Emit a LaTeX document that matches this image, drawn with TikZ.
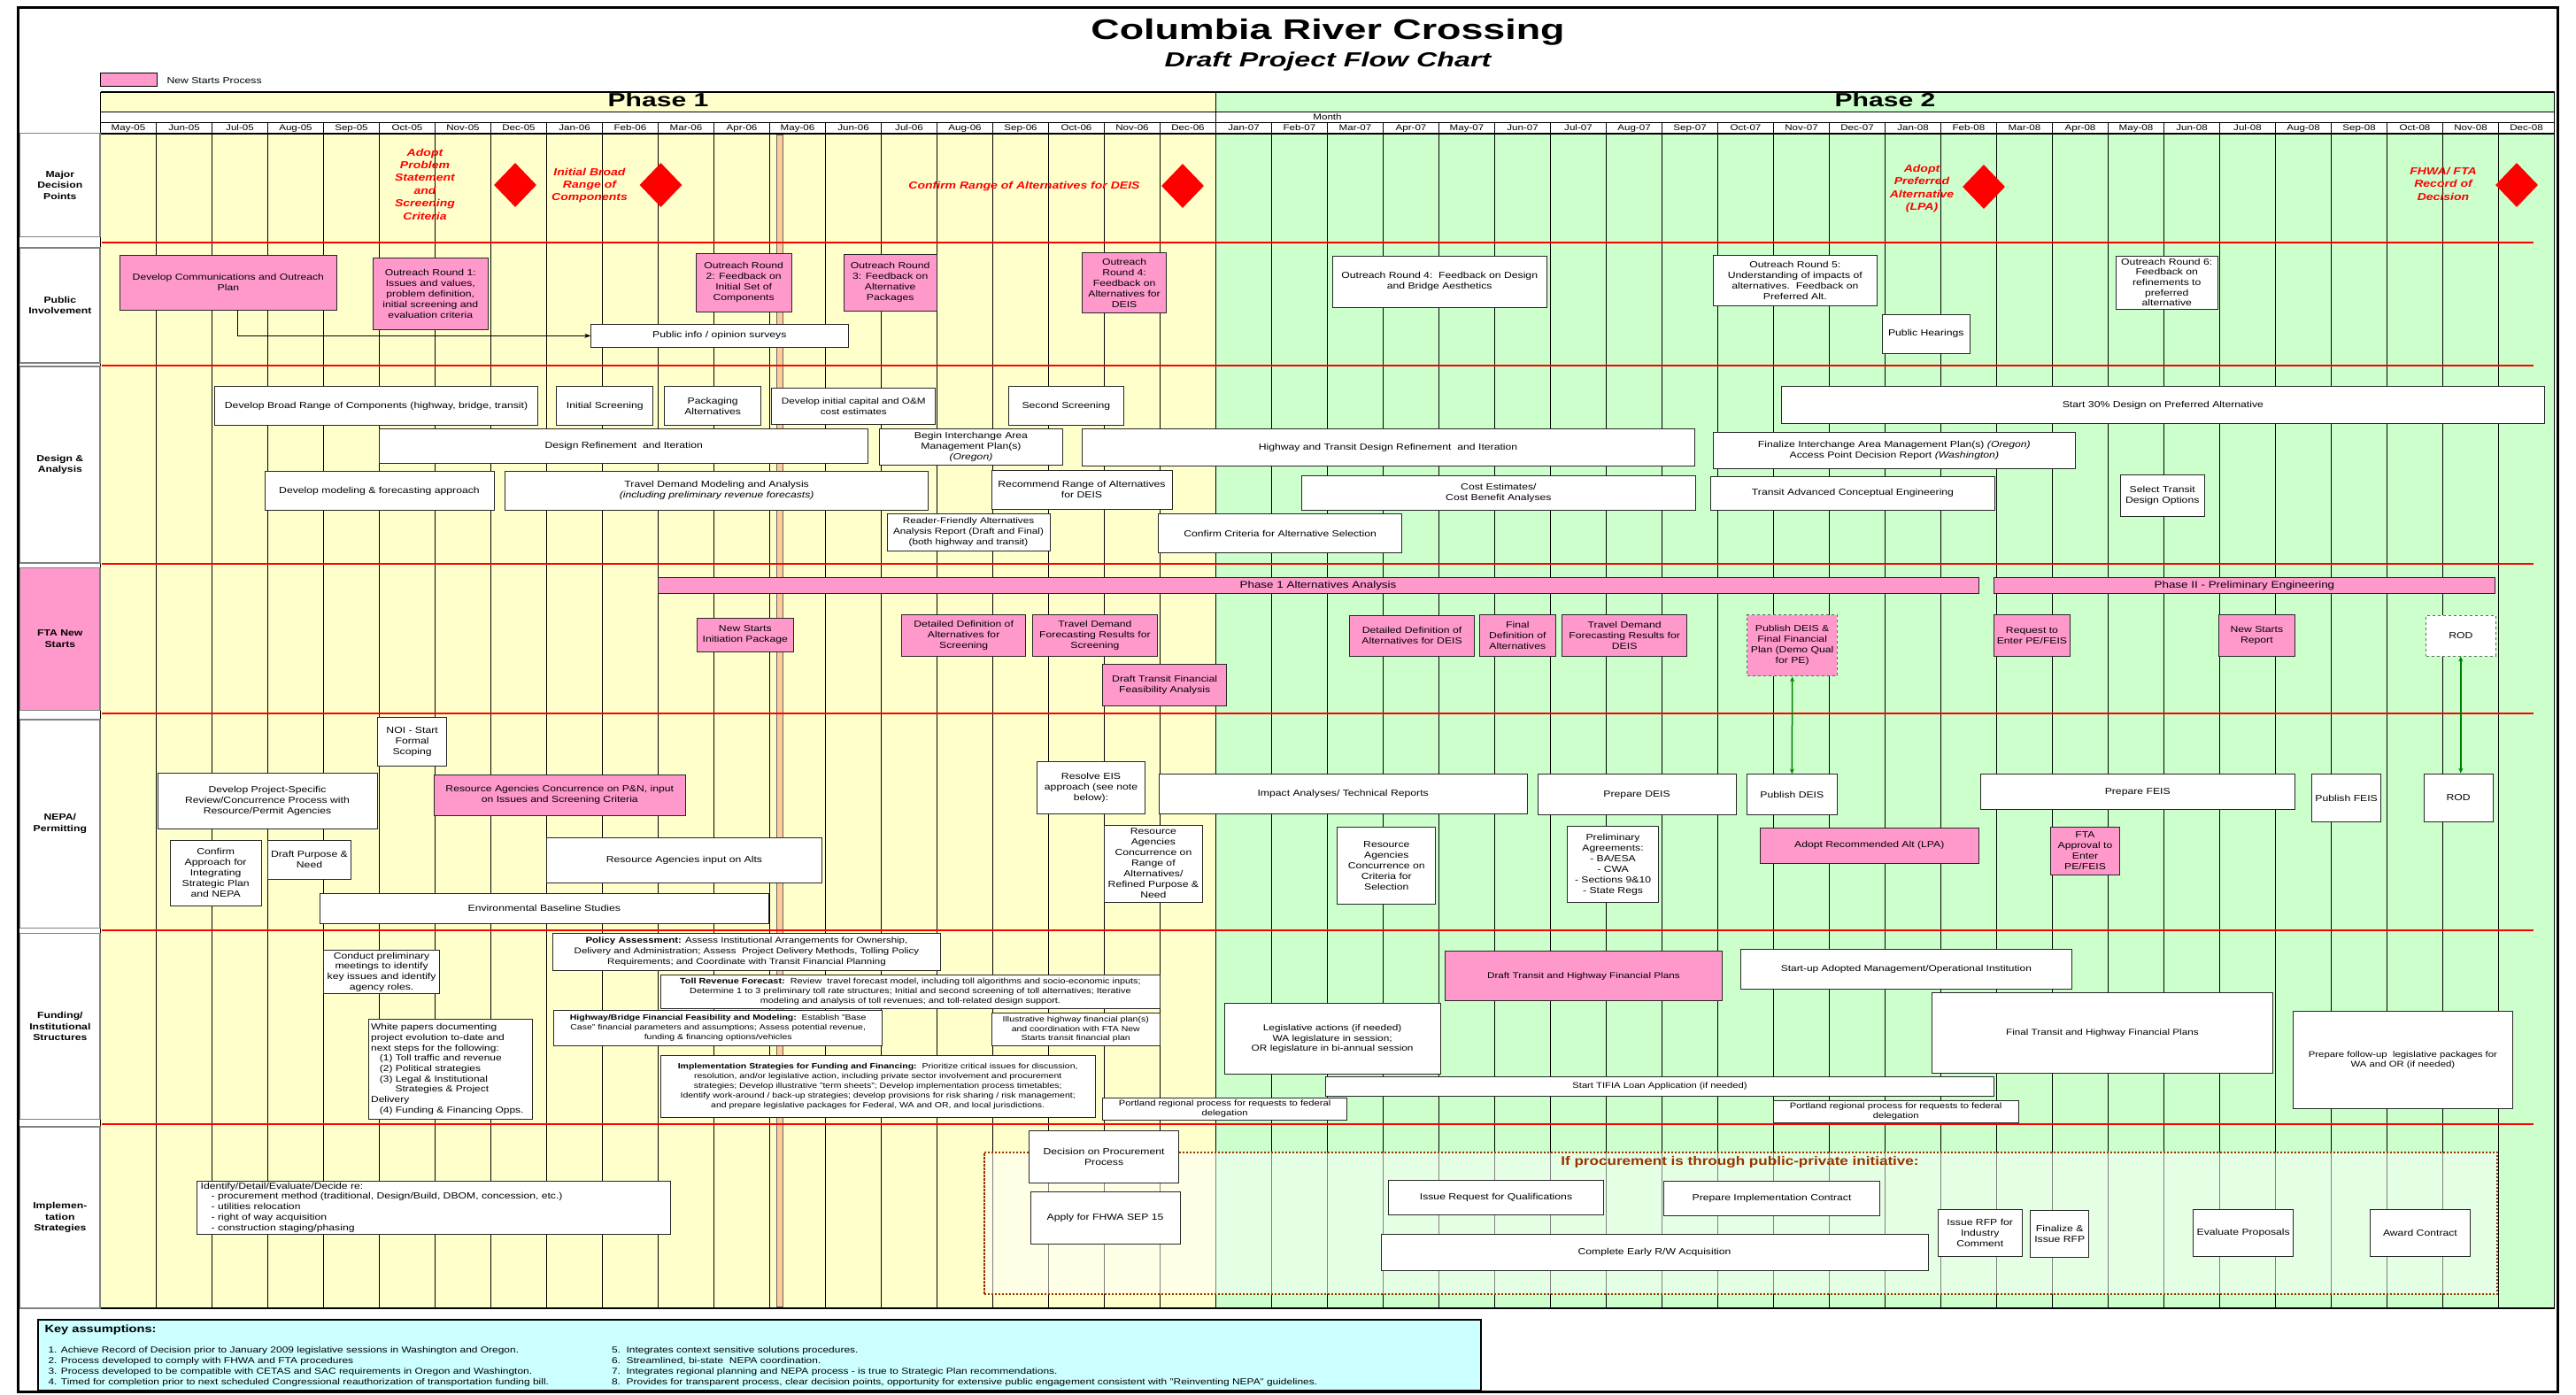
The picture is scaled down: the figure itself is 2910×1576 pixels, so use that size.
\documentclass[tikz,border=0pt]{standalone}
\usepackage{fontspec}
\setmainfont{Liberation Sans}[FakeStretch=1.22]
\newfontfamily\wf{Liberation Sans}[FakeStretch=1.4]
\usetikzlibrary{arrows.meta,shapes.geometric}
\definecolor{pyel}{HTML}{FFFFCC}
\definecolor{pgrn}{HTML}{CCFFCC}
\definecolor{npink}{HTML}{FF99CC}
\definecolor{keycyan}{HTML}{CCFFFF}
\definecolor{dred}{HTML}{993300}
\definecolor{ntan}{HTML}{FFCC99}
\definecolor{dgreen}{HTML}{008000}
\newcommand\fsz[2]{\fontsize{#1}{#2}\selectfont}
\newcommand\mybox[7][]{%
  \node[box,#1,minimum width={#5pt-#3pt},minimum height={#6pt-#4pt}] (#2) at ({(#3+#5)/2},{(#4+#6)/2}) {#7};}
\begin{document}
\begin{tikzpicture}[x=1pt,y=-1pt,
  box/.style={draw=black!85,line width=0.9pt,fill=white,inner sep=1pt,align=center,font=\fsz{10}{12}},
  pk/.style={fill=npink},
  lab/.style={draw=black!50,line width=1.2pt,font=\bfseries\fsz{10}{12.5}},
  mon/.style={anchor=base,font=\fsz{9.5}{11}},
  dtxt/.style={text=red,font=\bfseries\itshape\fsz{11.5}{14.4},align=center},
  dmd/.style={diamond,aspect=1,fill=red,draw=none,minimum width=48pt,minimum height=50pt,inner sep=0pt},
  redline/.style={red,line width=2.2pt},
  arr/.style={line width=0.8pt,-{Stealth[length=7pt,width=5pt]}},
  garr/.style={dgreen,line width=1.5pt,{Stealth[length=6pt,width=5pt]}-{Stealth[length=6pt,width=5pt]}},
  keyitem/.style={anchor=base west,font=\fsz{9.8}{11}}
]
\useasboundingbox (0,0) rectangle (2910,1576);
\fill[white] (0,0) rectangle (2910,1576);
% phase fills
\fill[pyel] (113.5,104) rectangle (1373.5,126);
\fill[pgrn] (1373.5,104) rectangle (2885.5,126);
\fill[pyel] (113.5,151) rectangle (1373.5,1478);
\fill[pgrn] (1373.5,151) rectangle (2885.5,1478);
% milestone bar
\draw[fill=ntan,draw=black!60,line width=0.5pt] (877,152.7) rectangle (884.5,1476.7);
% month lines
\foreach \i in {1,...,43} \draw[line width=0.6pt] ({113.5+63*\i},138) -- ({113.5+63*\i},1478);
\foreach \i in {8,32} \draw[line width=1.6pt] ({113.5+63*\i},138) -- ({113.5+63*\i},1478);
\draw[line width=1.8pt] (1373.5,104) -- (1373.5,1478);
\draw[line width=1pt] (113.5,104) -- (113.5,1478);
\draw[line width=1pt] (2885.5,104) -- (2885.5,1478);
% horizontal rules
\draw[line width=2pt] (113.5,104) -- (2885.5,104);
\draw[line width=0.8pt] (113.5,126) -- (2885.5,126);
\draw[line width=0.6pt] (113.5,138) -- (2885.5,138);
\draw[line width=1.2pt] (113.5,151) -- (2885.5,151);
\draw[line width=2pt] (113.5,1478) -- (2885.5,1478);
\foreach \yy in {274,412.7,637.3,806.3,1051.2,1270} \draw[redline] (115,\yy) -- (2862,\yy);
% frame
\draw[line width=3pt] (20.5,8.5) rectangle (2889,1572);
% titles
\node[font=\wf\bfseries\fsz{32}{38},anchor=base] (title) at (1500,45) {Columbia River Crossing};
\node[font=\wf\bfseries\itshape\fsz{23}{27},anchor=base] (subtitle) at (1500,76) {Draft Project Flow Chart};
\mybox[fill=npink,draw=black,line width=1pt]{leg}{113}{83}{177}{98}{}
\node[anchor=west,font=\fsz{10}{12}] (legt) at (185,91) {New Starts Process};
\node[font=\wf\bfseries\fsz{21.5}{25},anchor=base] (ph1) at (743.5,121) {Phase 1};
\node[font=\wf\bfseries\fsz{21.5}{25},anchor=base] (ph2) at (2129.5,121) {Phase 2};
\node[font=\fsz{9.5}{11}] (monthlbl) at (1499.5,132.5) {Month};
\foreach \m [count=\i from 0] in {May-05,Jun-05,Jul-05,Aug-05,Sep-05,Oct-05,Nov-05,Dec-05,Jan-06,Feb-06,Mar-06,Apr-06,May-06,Jun-06,Jul-06,Aug-06,Sep-06,Oct-06,Nov-06,Dec-06,Jan-07,Feb-07,Mar-07,Apr-07,May-07,Jun-07,Jul-07,Aug-07,Sep-07,Oct-07,Nov-07,Dec-07,Jan-08,Feb-08,Mar-08,Apr-08,May-08,Jun-08,Jul-08,Aug-08,Sep-08,Oct-08,Nov-08,Dec-08}
  \node[mon] (mo\i) at ({145+63*\i},148) {\m};
% row labels
\mybox[lab]{ldec}{22.8}{150.7}{112.9}{267.7}{Major\\Decision\\Points}
\mybox[lab]{lpi}{22.8}{280}{112.9}{410}{Public\\Involvement}
\mybox[lab]{lda}{22.8}{414}{112.9}{636}{Design \&\\Analysis}
\mybox[lab,fill=npink]{lfta}{22.8}{641.4}{112.9}{802.2}{FTA New\\Starts}
\mybox[lab]{lnepa}{22.8}{812.9}{112.9}{1048.4}{NEPA/\\Permitting}
\mybox[lab]{lfund}{22.8}{1054.5}{112.9}{1264.7}{Funding/\\Institutional\\Structures}
\mybox[lab]{limpl}{22.8}{1273}{112.9}{1478}{Implemen-\\tation\\Strategies}
% decision points
\node[dtxt] (t1) at (480,208) {Adopt\\Problem\\Statement\\and\\Screening\\Criteria};
\node[dmd] (d1) at (582,209) {};
\node[dtxt] (t2) at (666,209.5) {Initial Broad\\Range of\\Components};
\node[dmd] (d2) at (746.5,209) {};
\node[dtxt] (t3) at (1157,211) {Confirm Range of Alternatives for DEIS};
\node[dmd] (d3) at (1336,210) {};
\node[dtxt] (t4) at (2171,213) {Adopt\\Preferred\\Alternative\\(LPA)};
\node[dmd] (d4) at (2241,211) {};
\node[dtxt] (t5) at (2760,207.5) {FHWA/ FTA\\Record of\\Decision};
\node[dmd] (d5) at (2843,209) {};
% public involvement
\mybox[pk]{comm}{135.8}{288.3}{380}{350.3}{Develop Communications and Outreach\\Plan}
\mybox[pk]{or1}{421.6}{291}{551}{372.3}{Outreach Round 1:\\Issues and values,\\problem definition,\\initial screening and\\evaluation criteria}
\mybox[pk]{or2}{786.3}{286}{894}{352.3}{Outreach Round\\2: Feedback on\\Initial Set of\\Components}
\mybox[pk]{or3}{953.4}{287.3}{1058}{351.3}{Outreach Round\\3: Feedback on\\Alternative\\Packages}
\mybox[pk]{or4a}{1222.6}{285.7}{1317.6}{353.3}{Outreach\\Round 4:\\Feedback on\\Alternatives for\\DEIS}
\mybox{or4b}{1505}{289.3}{1747.4}{347.3}{Outreach Round 4:\ \ Feedback on Design\\and Bridge Aesthetics}
\mybox{or5}{1935.6}{288.7}{2120}{345.3}{Outreach Round 5:\\Understanding of impacts of\\alternatives.\ \ Feedback on\\Preferred Alt.}
\mybox[font=\fsz{10}{11.7}]{or6}{2390}{289}{2505.5}{349}{Outreach Round 6:\\Feedback on\\refinements to\\preferred\\alternative}
\mybox{hear}{2126.5}{355}{2225}{399.3}{Public Hearings}
\mybox{survey}{667.7}{366}{958}{392.7}{Public info / opinion surveys}
\coordinate (commfoot) at (268.5,350.3);
\draw[arr] (commfoot) |- (survey.west);
% design & analysis
\mybox{dbrc}{242.3}{436.7}{607.8}{480.7}{Develop Broad Range of Components (highway, bridge, transit)}
\mybox{iscr}{628.8}{436.7}{737.9}{480.7}{Initial Screening}
\mybox{pack}{750.6}{436.7}{859.7}{480.7}{Packaging\\Alternatives}
\mybox[font=\fsz{9.6}{12}]{dcap}{871.8}{438}{1056.8}{479.3}{Develop initial capital and O\&M\\cost estimates}
\mybox{sscr}{1139}{436.7}{1269.8}{480.3}{Second Screening}
\mybox{s30}{2012.8}{436.7}{2874}{478.3}{Start 30\% Design on Preferred Alternative}
\mybox{dref}{428.6}{484.3}{980.9}{523.3}{Design Refinement\ \ and Iteration}
\mybox{biamp}{993.6}{484.3}{1200.3}{525.7}{Begin Interchange Area\\Management Plan(s)\\\textit{(Oregon)}}
\mybox{htdr}{1222}{484.3}{1914}{526.7}{Highway and Transit Design Refinement\ \ and Iteration}
\mybox{fiamp}{1935}{488.3}{2344.7}{529}{Finalize Interchange Area Management Plan(s) \textit{(Oregon)}\\Access Point Decision Report \textit{(Washington)}}
\mybox{dmod}{299}{532.7}{558}{576.3}{Develop modeling \& forecasting approach}
\mybox{tdma}{570.8}{532}{1048.5}{576.3}{Travel Demand Modeling and Analysis\\\textit{(including preliminary revenue forecasts)}}
\mybox{rra}{1120}{531.7}{1324}{575}{Recommend Range of Alternatives\\for DEIS}
\mybox{cost}{1470}{537.7}{1915.8}{576}{Cost Estimates/\\Cost Benefit Analyses}
\mybox{trace}{1932.4}{538.3}{2253.6}{576}{Transit Advanced Conceptual Engineering}
\mybox{sto}{2395}{536.7}{2490.4}{583.3}{Select Transit\\Design Options}
\mybox[font=\fsz{9.6}{12}]{rfar}{1002}{580}{1186}{622.7}{Reader-Friendly Alternatives\\Analysis Report (Draft and Final)\\(both highway and transit)}
\mybox{ccas}{1308.7}{580.7}{1583.5}{624.7}{Confirm Criteria for Alternative Selection}
% FTA new starts
\mybox[pk,font=\fsz{11}{13}]{p1aa}{743}{652.4}{2235}{670}{Phase 1 Alternatives Analysis}
\mybox[pk,font=\fsz{11}{13}]{p2pe}{2252.5}{652.4}{2818.3}{670}{Phase II - Preliminary Engineering}
\mybox[pk]{nsip}{787.6}{698.2}{896}{736.1}{New Starts\\Initiation Package}
\mybox[pk]{dds}{1018.5}{694.5}{1158.8}{741}{Detailed Definition of\\Alternatives for\\Screening}
\mybox[pk]{tdfs}{1166.5}{694.5}{1307.4}{741}{Travel Demand\\Forecasting Results for\\Screening}
\mybox[pk]{dtffa}{1245.5}{750.4}{1385.8}{797.3}{Draft Transit Financial\\Feasibility Analysis}
\mybox[pk]{ddd}{1524.9}{695.3}{1665.2}{741.4}{Detailed Definition of\\Alternatives for DEIS}
\mybox[pk]{fda}{1671.6}{694.5}{1757}{741}{Final\\Definition of\\Alternatives}
\mybox[pk]{tdfd}{1764.7}{694.5}{1905.6}{741}{Travel Demand\\Forecasting Results for\\DEIS}
\mybox[pk,dashed,draw=black!60]{pdfp}{1973.9}{694.5}{2075.4}{763.9}{Publish DEIS \&\\Final Financial\\Plan (Demo Qual\\for PE)}
\mybox[pk]{req}{2252.5}{694.5}{2338.4}{741}{Request to\\Enter PE/FEIS}
\mybox[pk]{nsr}{2506.7}{694.5}{2592}{741}{New Starts\\Report}
\mybox[dashed,draw=black!60]{rodf}{2740.6}{695.3}{2819}{741}{ROD}
% NEPA
\mybox{noi}{426.7}{810}{504.5}{865.9}{NOI - Start\\Formal\\Scoping}
\mybox{devproj}{178}{873.3}{426}{936.1}{Develop Project-Specific\\Review/Concurrence Process with\\Resource/Permit Agencies}
\mybox[pk]{rapn}{490.4}{875.3}{774.2}{921}{Resource Agencies Concurrence on P\&N, input\\on Issues and Screening Criteria}
\mybox{confirm}{192}{949.2}{295.3}{1023.1}{Confirm\\Approach for\\Integrating\\Strategic Plan\\and NEPA}
\mybox{draftpn}{302.3}{949.2}{396.7}{993.3}{Draft Purpose \&\\Need}
\mybox{rainput}{617.3}{946.7}{928.6}{997.3}{Resource Agencies input on Alts}
\mybox{envbase}{361}{1009.6}{868.6}{1043.1}{Environmental Baseline Studies}
\mybox{resolve}{1171.6}{860.2}{1293.4}{919.8}{Resolve EIS\\approach (see note\\below):}
\mybox{impact}{1309.3}{874.9}{1725}{919.8}{Impact Analyses/ Technical Reports}
\mybox{prepdeis}{1737.2}{874.9}{1961}{920.6}{Prepare DEIS}
\mybox{pubdeis}{1973.2}{874.9}{2075.4}{920.2}{Publish DEIS}
\mybox{raconc}{1247.4}{932}{1358.4}{1019}{Resource\\Agencies\\Concurrence on\\Range of\\Alternatives/\\Refined Purpose \&\\Need}
\mybox{racrit}{1510.8}{934.5}{1621.8}{1021}{Resource\\Agencies\\Concurrence on\\Criteria for\\Selection}
\mybox{prelim}{1770.4}{933.3}{1873.7}{1019.8}{Preliminary\\Agreements:\\- BA/ESA\\- CWA\\- Sections 9\&10\\- State Regs}
\mybox[pk]{adopt}{1988.5}{935.3}{2235}{975.3}{Adopt Recommended Alt (LPA)}
\mybox{prepfeis}{2237.4}{874.9}{2592}{914.9}{Prepare FEIS}
\mybox[pk]{ftaappr}{2316.3}{934}{2394.7}{988.4}{FTA\\Approval to\\Enter\\PE/FEIS}
\mybox{pubfeis}{2611.7}{874.9}{2689.5}{928.8}{Publish FEIS}
\mybox{rodn}{2738.2}{874.1}{2816}{928.4}{ROD}
\draw[garr] (pdfp.south) -- (pubdeis.north);
\draw[garr] (rodf.south) -- (rodf.south |- rodn.north);
% funding
\mybox[font=\fsz{9.4}{11.8}]{policy}{624.4}{1054.5}{1062.5}{1096.1}{\textbf{Policy Assessment:} Assess Institutional Arrangements for Ownership,\\Delivery and Administration; Assess\ \ Project Delivery Methods, Tolling Policy\\Requirements; and Coordinate with Transit Financial Planning}
\mybox[font=\fsz{10}{11.8}]{conduct}{365.4}{1073.7}{496.8}{1122.7}{Conduct preliminary\\meetings to identify\\key issues and identify\\agency roles.}
\mybox[font=\fsz{8.9}{11}]{toll}{746.2}{1101.4}{1310.6}{1139}{\textbf{Toll Revenue Forecast:}\ \ Review\ \ travel forecast model, including toll algorithms and socio-economic inputs;\\Determine 1 to 3 preliminary toll rate structures; Initial and second screening of toll alternatives; Iterative\\modeling and analysis of toll revenues; and toll-related design support.}
\mybox[font=\fsz{8.6}{10.6}]{hwbr}{625.6}{1141.4}{996.8}{1181}{\textbf{Highway/Bridge Financial Feasibility and Modeling:}\ \ Establish "Base\\Case" financial parameters and assumptions; Assess potential revenue,\\funding \& financing options/vehicles}
\mybox[font=\fsz{8.6}{10.3}]{illus}{1120.5}{1144.3}{1310}{1181.8}{Illustrative highway financial plan(s)\\and coordination with FTA New\\Starts transit financial plan}
\mybox[align=left,text width=179pt,inner xsep=3pt,font=\fsz{9.8}{11.7}]{white}{416.5}{1151.2}{600.8}{1264.7}{White papers documenting\\project evolution to-date and\\next steps for the following:\\\hspace*{1em}(1) Toll traffic and revenue\\\hspace*{1em}(2) Political strategies\\\hspace*{1em}(3) Legal \& Institutional\\\hspace*{2.8em}Strategies \& Project\\Delivery\\\hspace*{1em}(4) Funding \& Financing Opps.}
\mybox[font=\fsz{8.6}{10.9}]{implf}{746.2}{1192}{1237.2}{1262.7}{\textbf{Implementation Strategies for Funding and Financing:}\ \ Prioritize critical issues for discussion,\\resolution, and/or legislative action, including private sector involvement and procurement\\strategies; Develop illustrative "term sheets"; Develop implementation process timetables;\\Identify work-around / back-up strategies; develop provisions for risk sharing / risk management;\\and prepare legislative packages for Federal, WA and OR, and local jurisdictions.}
\mybox[font=\fsz{9.2}{11}]{port1}{1245.5}{1240.6}{1521.7}{1265.5}{Portland regional process for requests to federal\\delegation}
\mybox[pk,font=\fsz{9.6}{11.5}]{dthfp}{1632.7}{1074.9}{1945}{1130.8}{Draft Transit and Highway Financial Plans}
\mybox[font=\fsz{9.7}{11.6}]{legis}{1383.3}{1133.3}{1627}{1213.7}{Legislative actions (if needed)\\WA legislature in session;\\OR legislature in bi-annual session}
\mybox[font=\fsz{9.2}{11}]{tifia}{1497.4}{1216.5}{2252.5}{1238.2}{Start TIFIA Loan Application (if needed)}
\mybox[font=\fsz{9.8}{11.6}]{startup}{1966}{1072.9}{2340.7}{1117.8}{Start-up Adopted Management/Operational Institution}
\mybox[font=\fsz{9.6}{11.5}]{fthfp}{2182.8}{1121.8}{2567}{1212.9}{Final Transit and Highway Financial Plans}
\mybox[font=\fsz{9.2}{11}]{port2}{2003}{1243.1}{2280.3}{1268.8}{Portland regional process for requests to federal\\delegation}
\mybox[font=\fsz{9.3}{11.6}]{follow}{2590.8}{1142.7}{2838}{1252.4}{Prepare follow-up\ \ legislative packages for\\WA and OR (if needed)}
% implementation
\mybox[align=left,text width=527pt,inner xsep=4pt,font=\fsz{10}{11.8}]{ident}{222.6}{1334}{757.7}{1394.3}{Identify/Detail/Evaluate/Decide re:\\\hspace*{1.2em}- procurement method (traditional, Design/Build, DBOM, concession, etc.)\\\hspace*{1.2em}- utilities relocation\\\hspace*{1.2em}- right of way acquisition\\\hspace*{1.2em}- construction staging/phasing}
\mybox[draw=dred,line width=2.2pt,dash pattern=on 2.4pt off 1.6pt,fill=white,fill opacity=0.5]{ppp}{1111.6}{1302}{2821}{1461.7}{}
\node[text=dred,font=\bfseries\fsz{14}{16}] (ppptitle) at (1965.5,1313) {If procurement is through public-private initiative:};
\mybox{dpp}{1162.6}{1277.7}{1331.6}{1336.7}{Decision on Procurement\\Process}
\mybox{sep}{1164}{1346}{1333}{1405}{Apply for FHWA SEP 15}
\mybox{rfq}{1568.2}{1333.7}{1811.8}{1372.3}{Issue Request for Qualifications}
\mybox{pic}{1879.5}{1334.3}{2123.6}{1373}{Prepare Implementation Contract}
\mybox{rw}{1560}{1394.3}{2178}{1435}{Complete Early R/W Acquisition}
\mybox{rfpc}{2189}{1366.7}{2284.4}{1419.3}{Issue RFP for\\Industry\\Comment}
\mybox{frfp}{2293.7}{1367.3}{2359.8}{1420}{Finalize \&\\Issue RFP}
\mybox{evp}{2477.6}{1366.7}{2590.8}{1419.3}{Evaluate Proposals}
\mybox{awc}{2677.3}{1366.7}{2790.5}{1419.3}{Award Contract}
% key assumptions
\mybox[draw=black,line width=2pt,fill=keycyan]{key}{43}{1491}{1673}{1571}{}
\node[anchor=base west,font=\bfseries\fsz{12}{14}] (keyh) at (47,1505) {Key assumptions:};
\node[keyitem] (k1) at (51,1528.3) {1. Achieve Record of Decision prior to January 2009 legislative sessions in Washington and Oregon.};
\node[keyitem] (k2) at (51,1540.3) {2. Process developed to comply with FHWA and FTA procedures};
\node[keyitem] (k3) at (51,1552.3) {3. Process developed to be compatible with CETAS and SAC requirements in Oregon and Washington.};
\node[keyitem] (k4) at (51,1564.3) {4. Timed for completion prior to next scheduled Congressional reauthorization of transportation funding bill.};
\node[keyitem] (k5) at (687.5,1528.3) {5.\ \ Integrates context sensitive solutions procedures.};
\node[keyitem] (k6) at (687.5,1540.3) {6.\ \ Streamlined, bi-state\ \ NEPA coordination.};
\node[keyitem] (k7) at (687.5,1552.3) {7.\ \ Integrates regional planning and NEPA process - is true to Strategic Plan recommendations.};
\node[keyitem] (k8) at (687.5,1564.3) {8.\ \ Provides for transparent process, clear decision points, opportunity for extensive public engagement consistent with "Reinventing NEPA" guidelines.};
\end{tikzpicture}
\end{document}
